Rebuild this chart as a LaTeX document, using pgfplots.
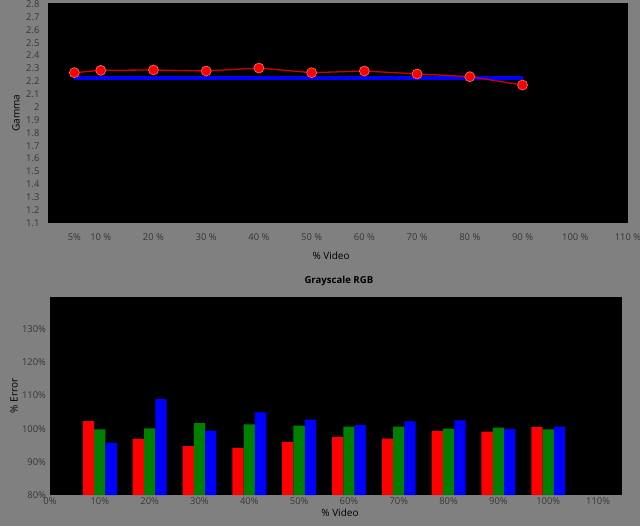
\documentclass[border=0pt]{standalone}
\usepackage{fontspec}
\setmainfont{Open Sans}
\usepackage{pgfplots}
\pgfplotsset{compat=1.18}
\definecolor{bg}{HTML}{808080}
\definecolor{txt}{HTML}{363636}
\definecolor{lred}{HTML}{D00000}
\definecolor{mred}{HTML}{FF7070}
\definecolor{bgreen}{HTML}{008000}
\begin{document}
\begin{tikzpicture}[x=1pt,y=1pt]
\useasboundingbox (0,0) rectangle (640,-526);
\fill[bg] (0,0) rectangle (640,-526);
\pgfplotsset{
  common/.style={
    scale only axis, anchor=south west,
    axis background/.style={fill=black},
    axis line style={draw=none},
    major tick length=0pt,
    /pgf/number format/assume math mode=true,
    tick label style={font=\fontsize{9.4}{11}\selectfont, text=txt},
    label style={font=\fontsize{9.4}{11}\selectfont, text=txt},
    clip=true,
  }
}
\begin{axis}[common,
  at={(48pt,-223pt)}, width=580pt, height=220pt,
  xmin=0, xmax=110, ymin=1.1, ymax=2.808,
  xtick={5,10,20,30,40,50,60,70,80,90,100,110},
  xticklabels={5\%,10 \%,20 \%,30 \%,40 \%,50 \%,60 \%,70 \%,80 \%,90 \%,100 \%,110 \%},
  ytick={1.1,1.2,1.3,1.4,1.5,1.6,1.7,1.8,1.9,2.0,2.1,2.2,2.3,2.4,2.5,2.6,2.7,2.8},
  yticklabel style={/pgf/number format/fixed, /pgf/number format/precision=1, xshift=-5pt},
  xticklabel style={yshift=-7pt},
  xlabel={\% Video}, ylabel={Gamma},
  every axis x label/.style={at={(axis description cs:0.488,-0.15)}, anchor=center},
  every axis y label/.style={at={(axis description cs:-0.055,0.5)}, anchor=center, rotate=90},
]
\addplot[blue, line width=3.3pt] coordinates {(5,2.225) (90,2.225)};
\addplot[lred, line width=1.3pt, mark=*, mark size=5pt,
  mark options={fill=red, draw=mred, line width=0.6pt}] coordinates {
  (5,2.267) (10,2.285) (20,2.288) (30,2.280) (40,2.303)
  (50,2.267) (60,2.280) (70,2.257) (80,2.236) (90,2.171)};
\end{axis}
\begin{axis}[common,
  at={(50pt,-495pt)}, width=572pt, height=198pt,
  xmin=0, xmax=114.8, ymin=80, ymax=139.7,
  xtick={0,10,...,110},
  xticklabels={0\%,10\%,20\%,30\%,40\%,50\%,60\%,70\%,80\%,90\%,100\%,110\%},
  ytick={80,90,100,110,120,130},
  yticklabels={80\%,90\%,100\%,110\%,120\%,130\%},
  yticklabel style={xshift=-0.5pt},
  xticklabel style={yshift=1pt},
  xlabel={\% Video}, ylabel={\% Error},
  every axis x label/.style={at={(axis description cs:0.507,-0.091)}, anchor=center},
  every axis y label/.style={at={(axis description cs:-0.063,0.5)}, anchor=center, rotate=90},
  title={\textbf{Grayscale RGB}},
  every axis title/.style={at={(axis description cs:0.505,1.081)}, anchor=center, font=\fontsize{9.6}{11}\selectfont, text=black},
]
\addplot[ybar, bar width=11.3pt, bar shift=-11.3pt, fill=red, draw=none] coordinates {
  (10,102.3) (20,96.9) (30,94.7) (40,94.2) (50,96.0) (60,97.5) (70,97.0) (80,99.3) (90,99.1) (100,100.5)};
\addplot[ybar, bar width=11.3pt, bar shift=0pt, fill=bgreen, draw=none] coordinates {
  (10,99.8) (20,100.1) (30,101.7) (40,101.3) (50,100.9) (60,100.6) (70,100.6) (80,100.0) (90,100.3) (100,99.8)};
\addplot[ybar, bar width=11.3pt, bar shift=11.3pt, fill=blue, draw=none] coordinates {
  (10,95.7) (20,108.9) (30,99.4) (40,104.9) (50,102.7) (60,101.1) (70,102.2) (80,102.5) (90,99.9) (100,100.6)};
\end{axis}
\end{tikzpicture}
\end{document}
